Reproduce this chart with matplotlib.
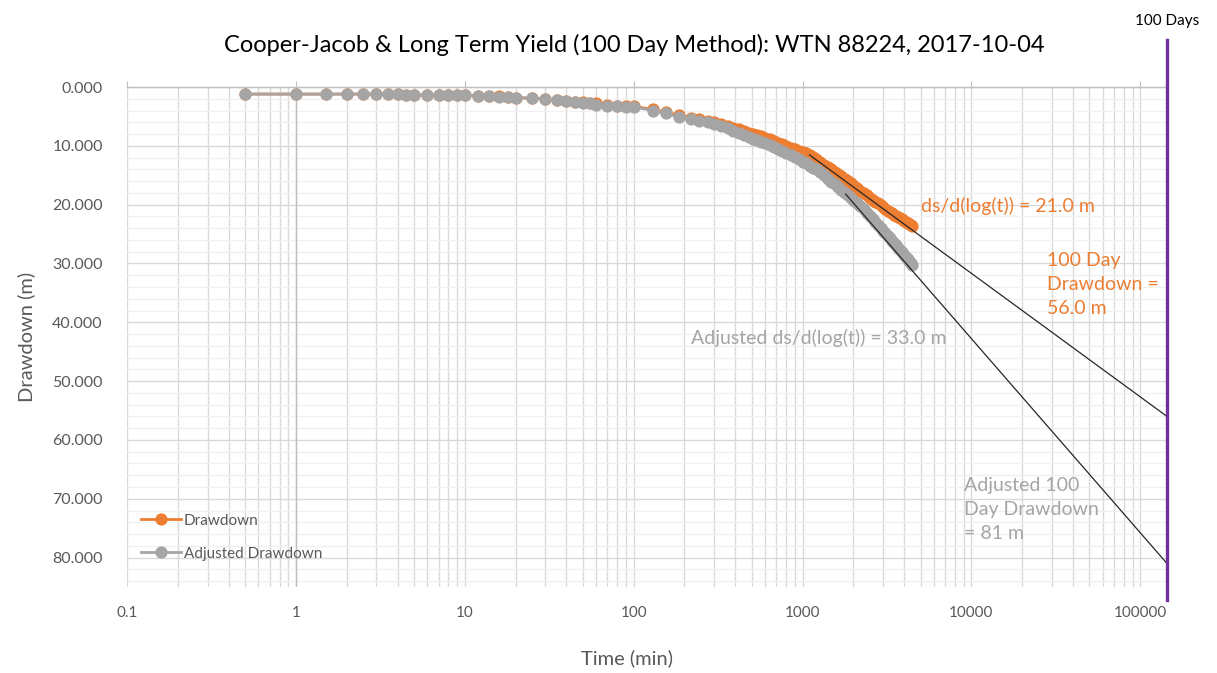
import matplotlib
matplotlib.use("Agg")
import matplotlib.pyplot as plt
from matplotlib.ticker import FixedLocator, FuncFormatter, MultipleLocator, NullFormatter
import numpy as np

plt.rcParams["font.family"] = ["Lato", "DejaVu Sans"]

# ── data (time in minutes, drawdown in metres) ──
time_min = [
    0.5, 1, 1.5, 2, 2.5, 3, 3.5, 4, 4.5, 5, 6, 7, 8, 9, 10, 12, 14, 16, 18, 20,
    25, 30, 35, 40, 45, 50, 55, 60, 70, 80, 90, 100, 130, 155, 185, 220, 245, 275, 300,
    330, 360, 390, 420, 450, 480, 510, 540, 570, 600, 640, 680, 720, 760, 800,
    850, 900, 950, 1000, 1050, 1100, 1150, 1200, 1270, 1340, 1410, 1480, 1550,
    1620, 1700, 1780, 1860, 1940, 2020, 2100, 2200, 2300, 2400, 2500, 2600,
    2700, 2800, 2900, 3000, 3100, 3200, 3300, 3400, 3500, 3600, 3700, 3800,
    3900, 4000, 4100, 4200, 4300, 4400, 4440,
]
drawdown = [
    1.2, 1.2, 1.2, 1.2, 1.2, 1.2, 1.2, 1.2, 1.3, 1.3, 1.4, 1.4, 1.4, 1.4, 1.4, 1.5, 1.6, 1.6, 1.7, 1.8,
    1.9, 2.0, 2.2, 2.3, 2.5, 2.6, 2.7, 2.8, 3.0, 3.2, 3.3, 3.3, 3.8, 4.3, 4.8, 5.2, 5.4, 5.7, 6.0,
    6.3, 6.6, 6.9, 7.2, 7.5, 7.8, 8.0, 8.2, 8.4, 8.6, 8.9, 9.2, 9.5, 9.7, 10.0,
    10.3, 10.5, 10.8, 11.0, 11.3, 11.6, 11.9, 12.2, 12.7, 13.2, 13.6, 14.0, 14.4,
    14.8, 15.2, 15.6, 16.0, 16.4, 16.8, 17.2, 17.6, 18.0, 18.4, 18.8, 19.2,
    19.5, 19.8, 20.1, 20.4, 20.7, 21.0, 21.2, 21.5, 21.7, 21.9, 22.1, 22.3,
    22.5, 22.7, 22.9, 23.1, 23.3, 23.5, 23.6,
]
adjusted_drawdown = [
    1.2, 1.2, 1.2, 1.2, 1.2, 1.2, 1.2, 1.2, 1.3, 1.3, 1.4, 1.4, 1.4, 1.4, 1.4, 1.5, 1.6, 1.7, 1.7, 1.8,
    1.9, 2.1, 2.2, 2.3, 2.6, 2.7, 2.8, 3.0, 3.2, 3.3, 3.4, 3.4, 4.0, 4.5, 5.1, 5.5, 5.7, 6.0, 6.3,
    6.7, 7.0, 7.4, 7.8, 8.1, 8.5, 8.8, 9.0, 9.3, 9.5, 9.8, 10.2, 10.5, 10.8, 11.2,
    11.6, 11.9, 12.3, 12.7, 13.0, 13.4, 13.7, 14.0, 14.5, 15.0, 15.6, 16.1, 16.5,
    17.0, 17.5, 18.0, 18.4, 18.9, 19.3, 19.8, 20.3, 20.8, 21.4, 21.9, 22.4,
    22.9, 23.4, 23.9, 24.4, 24.8, 25.3, 25.7, 26.1, 26.5, 26.9, 27.3, 27.7,
    28.1, 28.5, 28.9, 29.3, 29.6, 30.0, 30.2,
]

# Cooper-Jacob straight-line fits, extended to 100 days
t_100_days = 144000
fit_start = [1100, 1800]            # drawdown, adjusted
slope_per_cycle = [21.0, 33.0]
drawdown_100_days = [56.0, 81.0]

ORANGE = "#ED7D31"
GREY = "#A5A5A5"
TEXT = "#595959"

fig = plt.figure(figsize=(12.17, 6.73), dpi=100)
ax = fig.add_axes([0.1044, 0.1278, 0.8545, 0.7429])

ax.set_xscale("log")
ax.set_xlim(0.1, t_100_days)
ax.set_ylim(85, 0)

# ── grid ──
ax.xaxis.set_major_locator(FixedLocator([0.1, 1, 10, 100, 1000, 10000, 100000]))
ax.xaxis.set_minor_locator(FixedLocator(
    [m * 10.0 ** e for e in range(-1, 5) for m in range(2, 10)]))
ax.xaxis.set_major_formatter(FuncFormatter(lambda v, p: "%g" % v))
ax.xaxis.set_minor_formatter(NullFormatter())
ax.yaxis.set_major_locator(MultipleLocator(10))
ax.yaxis.set_minor_locator(MultipleLocator(2))
ax.yaxis.set_major_formatter(FuncFormatter(lambda v, p: "%.3f" % v))

ax.grid(which="major", axis="both", color="#D9D9D9", linewidth=0.95)
ax.grid(which="minor", axis="x", color="#D9D9D9", linewidth=0.95)
ax.grid(which="minor", axis="y", color="#F0F0F0", linewidth=0.95)
ax.set_axisbelow(True)

for side in ["left", "right", "bottom"]:
    ax.spines[side].set_visible(False)
ax.spines["top"].set_color("#BFBFBF")
ax.spines["top"].set_linewidth(1.0)
ax.axvline(1, color="#BFBFBF", linewidth=1.0, zorder=1)

ax.tick_params(axis="x", which="major", top=True, bottom=False, labelbottom=True,
               direction="out", length=4, color="#BFBFBF", pad=10,
               labelsize=11, labelcolor=TEXT)
ax.tick_params(axis="x", which="minor", top=False, bottom=False)
ax.tick_params(axis="y", which="both", left=False, labelsize=11.5,
               labelcolor=TEXT, pad=14)

# ── series ──
ax.plot(time_min, drawdown, color=ORANGE, marker="o", markersize=7.8,
        linewidth=2.0, label="Drawdown", zorder=3)
ax.plot(time_min, adjusted_drawdown, color=GREY, marker="o", markersize=7.8,
        linewidth=2.0, label="Adjusted Drawdown", zorder=4)

# ── straight-line projections ──
for t0, m, s100 in zip(fit_start, slope_per_cycle, drawdown_100_days):
    tt = np.array([t0, t_100_days])
    ax.plot(tt, s100 + m * np.log10(tt / t_100_days), color="#262626",
            linewidth=0.9, zorder=5)

ax.axvline(t_100_days, ymin=-0.026, ymax=1.094, color="#7030A0",
           linewidth=2.4, clip_on=False, zorder=6)
ax.text(t_100_days, -11.2, "100 Days", ha="center", va="center",
        fontsize=11, color="black")

# ── annotations ──
ax.text(5060, 20.3, "ds/d(log(t)) = 21.0 m", color=ORANGE, fontsize=14,
        va="center", ha="left")
ax.text(28000, 28.0, "100 Day\nDrawdown =\n56.0 m", color=ORANGE,
        fontsize=14, va="top", ha="left", linespacing=1.5)
ax.text(220, 42.7, "Adjusted ds/d(log(t)) = 33.0 m", color=GREY,
        fontsize=14, va="center", ha="left")
ax.text(9100, 66.3, "Adjusted 100\nDay Drawdown\n= 81 m", color=GREY,
        fontsize=14, va="top", ha="left", linespacing=1.5)

ax.legend(loc="lower left", bbox_to_anchor=(0.0, 0.025), frameon=False,
          fontsize=11, labelcolor=TEXT, handlelength=2.6, handletextpad=0.2,
          labelspacing=1.25)

ax.set_xlabel("Time (min)", fontsize=14.5, color=TEXT)
ax.xaxis.set_label_coords(0.481, -0.125)
ax.set_ylabel("Drawdown (m)", fontsize=14.5, color=TEXT, labelpad=12)
fig.suptitle("Cooper-Jacob & Long Term Yield (100 Day Method): WTN 88224, 2017-10-04",
             x=0.521, y=0.933, va="center", fontsize=17, color="black")

fig.savefig("out.png", dpi=100)
